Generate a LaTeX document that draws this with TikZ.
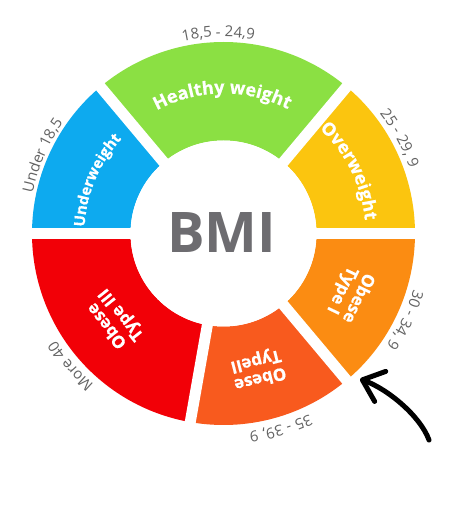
\documentclass[tikz,border=0pt]{standalone}
\usepackage{fontspec}
\setmainfont{Open Sans}
\newfontfamily\heavyfont[FakeBold=0.6]{Open Sans}
\usetikzlibrary{decorations.text,arrows.meta}
\definecolor{cUnder}{HTML}{0DAAEF}
\definecolor{cHealthy}{HTML}{8BE043}
\definecolor{cOver}{HTML}{FBC50F}
\definecolor{cObA}{HTML}{FB8C12}
\definecolor{cObB}{HTML}{F85A1E}
\definecolor{cObC}{HTML}{F20007}
\definecolor{txtgray}{HTML}{636363}
\definecolor{bmigray}{HTML}{6D6C70}
\def\Rout{191.5}
\def\Rin{93}
\newcommand\ringseg[3]{%
  \fill[#1] (#2:\Rout) arc[start angle=#2,end angle=#3,radius=\Rout]
    -- (#3:\Rin) arc[start angle=#3,end angle=#2,radius=\Rin] -- cycle;}
\newcommand\inlblfont{\heavyfont\bfseries\fontsize{18}{18}\selectfont}
\newcommand\smlblfont{\heavyfont\bfseries\fontsize{15}{15}\selectfont}
\newcommand\outlblfont{\fontsize{15}{15}\selectfont}
\newcommand\arclabel[5]{% angle, radius, colour, format, text
  \path[decorate,decoration={text along path,text align=center,text color=#3,
      text={|#4|#5}}]
    ({#1+70}:#2) arc[start angle={#1+70},end angle={#1-70},radius=#2];}
\tikzset{
  gap/.style={white,line width=11pt},
  obeselbl/.style={text=white,font=\heavyfont\bfseries\fontsize{17}{18}\selectfont,
    align=center,inner sep=0pt},
  arrowline/.style={line width=5pt,line cap=round,
    -{Straight Barb[length=19pt,width=32pt,round]}},
}
\begin{document}
\begin{tikzpicture}[x=1pt,y=1pt]
\useasboundingbox (-223.5,-292.5) rectangle (250.5,233.5);
\fill[white] (-223.5,-292.5) rectangle (250.5,233.5);
% ring segments
\ringseg{cOver}{0}{50}
\ringseg{cHealthy}{50}{130}
\ringseg{cUnder}{130}{180}
\ringseg{cObC}{180}{260}
\ringseg{cObB}{260}{310}
\ringseg{cObA}{310}{360}
% gaps
\draw[gap] (180:200) -- (0:200);
\draw[gap] (0,0) -- (50:200);
\draw[gap] (0,0) -- (130:200);
\draw[gap] (0,0) -- (-50:200);
\draw[gap] (0,0) -- (-100:200);
\fill[white] (0,0) circle[radius=\Rin];
% centre
\node[text=bmigray,font=\bfseries\fontsize{56}{56}\selectfont,inner sep=0pt] (bmi) at (-2,1) {BMI};
% inner labels
\arclabel{90.5}{140}{white}{\inlblfont}{Healthy weight}
\arclabel{157.2}{139}{white}{\smlblfont}{Underweight}
\arclabel{26.4}{142}{white}{\inlblfont}{Overweight}
\node[obeselbl,rotate=-115.6] (obA) at (-25.6:140) {Obese\\Type I};
\node[obeselbl,rotate=-165.8] (obB) at (-75.8:140) {Obese\\TypeII};
\node[obeselbl,rotate=128.4] (obC) at (-141.6:139) {Obese\\Type III};
% outer labels
\arclabel{91.5}{196.5}{txtgray}{\outlblfont}{18,5 - 24,9}
\arclabel{156.7}{195}{txtgray}{\outlblfont}{Under 18,5}
\arclabel{28.4}{197}{txtgray}{\outlblfont}{25 - 29, 9}
\arclabel{-25.5}{198}{txtgray}{\outlblfont}{30 - 34, 9}
\arclabel{-73.6}{200}{txtgray}{\outlblfont}{35 - 39, 9}
\arclabel{-139}{199}{txtgray}{\outlblfont}{More 40}
% arrow
\coordinate (arrowstart) at (205.5,-206.5);
\coordinate (arrowtip) at (136.5,-145.5);
\draw[arrowline] (arrowstart) .. controls (197,-183) and (165,-156) .. (arrowtip);
\end{tikzpicture}
\end{document}
